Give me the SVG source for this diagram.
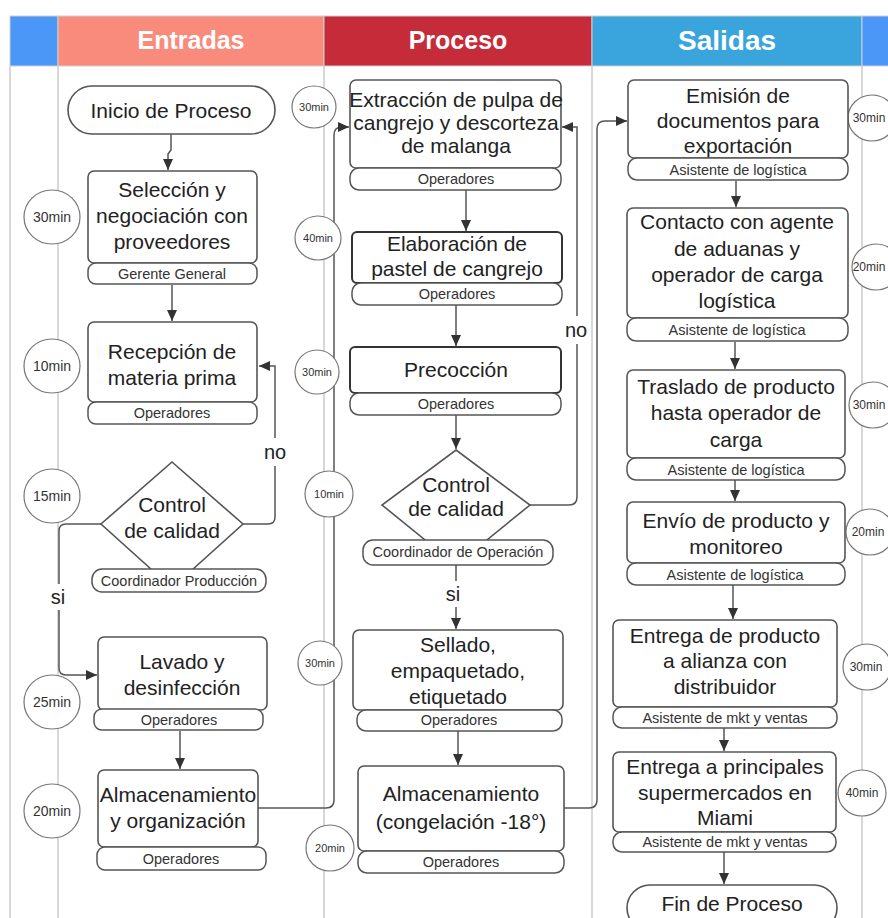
<svg xmlns="http://www.w3.org/2000/svg" width="888" height="918" viewBox="0 0 888 918">
<defs>
<marker id="ah" markerUnits="userSpaceOnUse" markerWidth="11" markerHeight="10" refX="11" refY="5" orient="auto">
<path d="M0,0 L11,5 L0,10 z" fill="#333"/>
</marker>
<style>
.lane{stroke:#cfcfcf;stroke-width:1.6;fill:none}
.hdr{stroke:#d0d0d0;stroke-width:1}
.hd{font-family:"Liberation Sans",Arial,sans-serif;font-weight:bold;fill:#fff;text-anchor:middle}
.box{fill:#fff;stroke:#555;stroke-width:1.6}
.box2{fill:#fff;stroke:#333;stroke-width:2}
.role{fill:#fff;stroke:#555;stroke-width:1.5}
.t{font-family:"Liberation Sans",Arial,sans-serif;fill:#222;text-anchor:middle;font-size:21px}
.r{font-family:"Liberation Sans",Arial,sans-serif;fill:#333;text-anchor:middle;font-size:14.5px}
.tm{fill:#fff;stroke:#777;stroke-width:1.2}
.tt{font-family:"Liberation Sans",Arial,sans-serif;fill:#333;text-anchor:middle}
.conn{fill:none;stroke:#555;stroke-width:1.5}
.lbl{font-family:"Liberation Sans",Arial,sans-serif;fill:#222;text-anchor:middle;font-size:20px}
</style>
</defs>
<rect width="888" height="918" fill="#fff"/>

<g id="lanes">
<line class="lane" x1="10" y1="66" x2="10" y2="918"/>
<line class="lane" x1="58" y1="66" x2="58" y2="918"/>
<line class="lane" x1="324" y1="66" x2="324" y2="918"/>
<line class="lane" x1="592" y1="66" x2="592" y2="918"/>
<line class="lane" x1="862" y1="66" x2="862" y2="918"/>
</g>

<g id="headers">
<rect class="hdr" x="10" y="16" width="48" height="50" fill="#4A97F7"/>
<rect class="hdr" x="58" y="16" width="266" height="50" fill="#F98B7D"/>
<rect class="hdr" x="324" y="16" width="268" height="50" fill="#C62B39"/>
<rect class="hdr" x="592" y="16" width="270" height="50" fill="#3AA5DC"/>
<rect class="hdr" x="862" y="16" width="30" height="50" fill="#4A97F7"/>
<text class="hd" x="191" y="49" font-size="25">Entradas</text>
<text class="hd" x="458" y="49" font-size="25">Proceso</text>
<text class="hd" x="727" y="50" font-size="28">Salidas</text>
</g>

<g id="connectors">
<path class="conn" d="M171,134 V150 L168,154 V170" marker-end="url(#ah)"/>
<path class="conn" d="M172,285 V321" marker-end="url(#ah)"/>
<path class="conn" d="M243,524 H268 Q275,524 275,517 V366 H259" marker-end="url(#ah)"/>
<path class="conn" d="M102,524 H66 Q59,524 59,531 V668 Q59,675 66,675 H97" marker-end="url(#ah)"/>
<path class="conn" d="M180,731 V769" marker-end="url(#ah)"/>
<path class="conn" d="M258,808 H326 Q334,808 334,800 V135 Q334,127 342,127 H349" marker-end="url(#ah)"/>
<path class="conn" d="M466,190 V231" marker-end="url(#ah)"/>
<path class="conn" d="M456,305 V346" marker-end="url(#ah)"/>
<path class="conn" d="M456,415 V449" marker-end="url(#ah)"/>
<path class="conn" d="M530,505 H569 Q577,505 577,497 V127 H562" marker-end="url(#ah)"/>
<path class="conn" d="M456,565 V629" marker-end="url(#ah)"/>
<path class="conn" d="M458,731 V765" marker-end="url(#ah)"/>
<path class="conn" d="M564,808 H589 Q597,808 597,800 V129 Q597,121 605,121 H627" marker-end="url(#ah)"/>
<path class="conn" d="M736,181 V207" marker-end="url(#ah)"/>
<path class="conn" d="M735,342 V369" marker-end="url(#ah)"/>
<path class="conn" d="M735,480 V501" marker-end="url(#ah)"/>
<path class="conn" d="M733,585 V619" marker-end="url(#ah)"/>
<path class="conn" d="M724,728 V751" marker-end="url(#ah)"/>
<path class="conn" d="M724,852 V884" marker-end="url(#ah)"/>
<rect x="262" y="438" width="27" height="28" fill="#fff"/>
<text class="lbl" x="275" y="459">no</text>
<rect x="48" y="584" width="22" height="26" fill="#fff"/>
<text class="lbl" x="58" y="604">si</text>
<rect x="562" y="316" width="28" height="28" fill="#fff"/>
<text class="lbl" x="576" y="337">no</text>
<rect x="444" y="581" width="22" height="26" fill="#fff"/>
<text class="lbl" x="453" y="601">si</text>
</g>

<g id="t1"><ellipse class="tm" cx="52" cy="217" rx="28" ry="27"/><text class="tt" x="52" y="222" font-size="14">30min</text></g>
<g id="t2"><ellipse class="tm" cx="52" cy="366" rx="28" ry="27"/><text class="tt" x="52" y="371" font-size="14">10min</text></g>
<g id="t3"><ellipse class="tm" cx="52" cy="496" rx="28" ry="27"/><text class="tt" x="52" y="501" font-size="14">15min</text></g>
<g id="t4"><ellipse class="tm" cx="52" cy="702" rx="28" ry="27"/><text class="tt" x="52" y="707" font-size="14">25min</text></g>
<g id="t5"><ellipse class="tm" cx="52" cy="811" rx="28" ry="27"/><text class="tt" x="52" y="816" font-size="14">20min</text></g>

<g id="t6"><ellipse class="tm" cx="314" cy="107" rx="22" ry="21"/><text class="tt" x="314" y="111" font-size="11">30min</text></g>
<g id="t7"><ellipse class="tm" cx="318" cy="238" rx="23" ry="22"/><text class="tt" x="318" y="242" font-size="11">40min</text></g>
<g id="t8"><ellipse class="tm" cx="317" cy="372" rx="22" ry="22"/><text class="tt" x="317" y="376" font-size="11">30min</text></g>
<g id="t9"><ellipse class="tm" cx="329" cy="494" rx="24" ry="23"/><text class="tt" x="329" y="498" font-size="11">10min</text></g>
<g id="t10"><ellipse class="tm" cx="320" cy="663" rx="22" ry="22"/><text class="tt" x="320" y="667" font-size="11">30min</text></g>
<g id="t11"><ellipse class="tm" cx="330" cy="848" rx="24" ry="23"/><text class="tt" x="330" y="852" font-size="11">20min</text></g>

<g id="t12"><ellipse class="tm" cx="872" cy="118" rx="24" ry="23"/><text class="tt" x="869" y="122" font-size="12">30min</text></g>
<g id="t13"><ellipse class="tm" cx="876" cy="267" rx="24" ry="23"/><text class="tt" x="869" y="271" font-size="12">20min</text></g>
<g id="t14"><ellipse class="tm" cx="873" cy="405" rx="24" ry="23"/><text class="tt" x="869" y="409" font-size="12">30min</text></g>
<g id="t15"><ellipse class="tm" cx="870" cy="532" rx="24" ry="23"/><text class="tt" x="868" y="536" font-size="12">20min</text></g>
<g id="t16"><ellipse class="tm" cx="867" cy="667" rx="24" ry="23"/><text class="tt" x="866" y="671" font-size="12">30min</text></g>
<g id="t17"><ellipse class="tm" cx="862" cy="793" rx="24" ry="23"/><text class="tt" x="862" y="797" font-size="12">40min</text></g>

<g id="inicio">
<rect class="box" x="68" y="86" width="207" height="48" rx="24"/>
<text class="t" x="171" y="118" font-size="23">Inicio de Proceso</text>
</g>
<g id="seleccion">
<rect class="box" x="88" y="171" width="169" height="92" rx="6"/>
<rect class="role" x="88" y="263" width="169" height="21" rx="8"/>
<text class="t" x="172" y="197">Selección y</text>
<text class="t" x="172" y="223">negociación con</text>
<text class="t" x="172" y="249">proveedores</text>
<text class="r" x="172" y="279">Gerente General</text>
</g>
<g id="recepcion">
<rect class="box" x="88" y="322" width="169" height="80" rx="6"/>
<rect class="role" x="88" y="402" width="169" height="22" rx="8"/>
<text class="t" x="172" y="359">Recepción de</text>
<text class="t" x="172" y="385">materia prima</text>
<text class="r" x="172" y="418">Operadores</text>
</g>
<g id="control1">
<polygon class="box" points="172,462 243,524 172,588 101,524"/>
<rect class="role" x="92" y="569" width="174" height="23" rx="10"/>
<text class="t" x="172" y="512">Control</text>
<text class="t" x="172" y="538">de calidad</text>
<text class="r" x="179" y="586">Coordinador Producción</text>
</g>
<g id="lavado">
<rect class="box" x="98" y="637" width="169" height="73" rx="6"/>
<rect class="role" x="94" y="709" width="169" height="21" rx="8"/>
<text class="t" x="182" y="669">Lavado y</text>
<text class="t" x="182" y="695">desinfección</text>
<text class="r" x="179" y="725">Operadores</text>
</g>
<g id="almacen1">
<rect class="box" x="98" y="770" width="160" height="77" rx="6"/>
<rect class="role" x="97" y="847" width="169" height="23" rx="8"/>
<text class="t" x="178" y="802">Almacenamiento</text>
<text class="t" x="178" y="828">y organización</text>
<text class="r" x="181" y="864">Operadores</text>
</g>

<g id="extraccion">
<rect class="box" x="350" y="80" width="211" height="88" rx="6"/>
<rect class="role" x="350" y="168" width="211" height="22" rx="9"/>
<text class="t" x="456" y="107" font-size="18.5">Extracción de pulpa de</text>
<text class="t" x="456" y="130" font-size="18.5">cangrejo y descorteza</text>
<text class="t" x="456" y="153" font-size="18.5">de malanga</text>
<text class="r" x="456" y="184">Operadores</text>
</g>
<g id="elaboracion">
<rect class="box2" x="352" y="232" width="210" height="51" rx="5"/>
<rect class="role" x="352" y="283" width="210" height="22" rx="9"/>
<text class="t" x="457" y="251">Elaboración de</text>
<text class="t" x="457" y="276">pastel de cangrejo</text>
<text class="r" x="457" y="299">Operadores</text>
</g>
<g id="precoccion">
<rect class="box2" x="350" y="347" width="211" height="46" rx="5"/>
<rect class="role" x="350" y="393" width="211" height="22" rx="9"/>
<text class="t" x="456" y="377">Precocción</text>
<text class="r" x="456" y="409">Operadores</text>
</g>
<g id="control2">
<polygon class="box" points="456,450 530,505 456,565 382,505"/>
<rect class="role" x="363" y="540" width="190" height="25" rx="10"/>
<text class="t" x="456" y="492">Control</text>
<text class="t" x="456" y="516">de calidad</text>
<text class="r" x="458" y="557" font-size="13">Coordinador de Operación</text>
</g>
<g id="sellado">
<rect class="box" x="353" y="630" width="210" height="80" rx="6"/>
<rect class="role" x="357" y="710" width="205" height="21" rx="9"/>
<text class="t" x="458" y="652">Sellado,</text>
<text class="t" x="458" y="678">empaquetado,</text>
<text class="t" x="458" y="704">etiquetado</text>
<text class="r" x="459" y="725">Operadores</text>
</g>
<g id="almacen2">
<rect class="box" x="358" y="766" width="206" height="85" rx="6"/>
<rect class="role" x="358" y="851" width="206" height="22" rx="9"/>
<text class="t" x="461" y="801">Almacenamiento</text>
<text class="t" x="461" y="829">(congelación -18°)</text>
<text class="r" x="461" y="867">Operadores</text>
</g>

<g id="emision">
<rect class="box" x="628" y="80" width="220" height="78" rx="6"/>
<rect class="role" x="628" y="158" width="220" height="22" rx="9"/>
<text class="t" x="738" y="103">Emisión de</text>
<text class="t" x="738" y="128">documentos para</text>
<text class="t" x="738" y="153">exportación</text>
<text class="r" x="738" y="175">Asistente de logística</text>
</g>
<g id="contacto">
<rect class="box" x="627" y="208" width="221" height="110" rx="6"/>
<rect class="role" x="627" y="318" width="221" height="23" rx="9"/>
<text class="t" x="737" y="229">Contacto con agente</text>
<text class="t" x="737" y="256">de aduanas y</text>
<text class="t" x="737" y="282">operador de carga</text>
<text class="t" x="737" y="308">logística</text>
<text class="r" x="737" y="335">Asistente de logística</text>
</g>
<g id="traslado">
<rect class="box" x="627" y="370" width="218" height="88" rx="6"/>
<rect class="role" x="627" y="458" width="218" height="22" rx="9"/>
<text class="t" x="736" y="394">Traslado de producto</text>
<text class="t" x="736" y="420">hasta operador de</text>
<text class="t" x="736" y="447">carga</text>
<text class="r" x="736" y="475">Asistente de logística</text>
</g>
<g id="envio">
<rect class="box" x="627" y="502" width="218" height="61" rx="6"/>
<rect class="role" x="627" y="563" width="218" height="22" rx="9"/>
<text class="t" x="736" y="528">Envío de producto y</text>
<text class="t" x="736" y="554">monitoreo</text>
<text class="r" x="735" y="580">Asistente de logística</text>
</g>
<g id="entrega">
<rect class="box" x="613" y="620" width="224" height="87" rx="6"/>
<rect class="role" x="613" y="707" width="224" height="21" rx="9"/>
<text class="t" x="725" y="643">Entrega de producto</text>
<text class="t" x="725" y="668">a alianza con</text>
<text class="t" x="725" y="694">distribuidor</text>
<text class="r" x="725" y="723">Asistente de mkt y ventas</text>
</g>
<g id="supermercados">
<rect class="box" x="613" y="752" width="223" height="80" rx="6"/>
<rect class="role" x="613" y="832" width="223" height="20" rx="9"/>
<text class="t" x="725" y="774">Entrega a principales</text>
<text class="t" x="725" y="800">supermercados en</text>
<text class="t" x="725" y="825">Miami</text>
<text class="r" x="725" y="847">Asistente de mkt y ventas</text>
</g>
<g id="fin">
<rect class="box" x="627" y="885" width="210" height="46" rx="23"/>
<text class="t" x="732" y="911" font-size="23">Fin de Proceso</text>
</g>
</svg>
